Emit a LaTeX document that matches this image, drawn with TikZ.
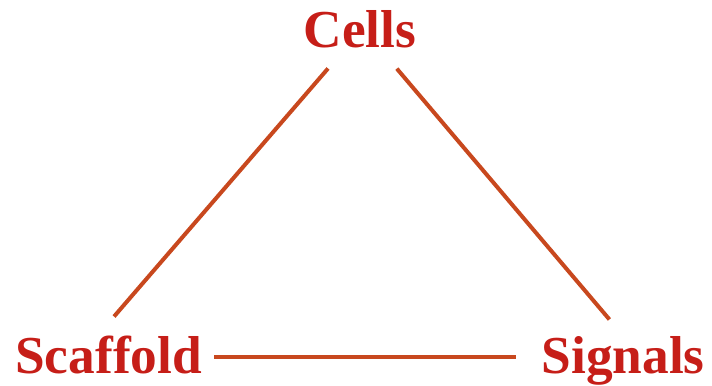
\documentclass[tikz,border=0pt]{standalone}
\usepackage{fontspec}
\setmainfont{Liberation Serif}
\usetikzlibrary{positioning}

\definecolor{labelred}{RGB}{198,30,24}
\definecolor{linkred}{RGB}{200,72,30}

\tikzset{
  word/.style={inner sep=0pt, text=labelred, font=\fontsize{40}{48}\selectfont\bfseries},
  link/.style={draw=linkred, line width=3pt}
}

\begin{document}
\begin{tikzpicture}[x=0.75pt,y=0.75pt,yscale=-1,xscale=1]
		\useasboundingbox (0,0) rectangle (712,385);
		
		% Text Node
		\node [word, anchor=base] (cells) at (360,48) {Cells};
		% Text Node
		\node [word, anchor=base west] (scaffold) at (15,373) {Scaffold};
		% Text Node
		\node [word, anchor=base east] (signals) at (705,373) {Signals};
		
		%Straight Lines
		\draw [link, shorten <=19.5pt, shorten >=18.5pt] ([xshift=-11.25pt]cells.south) -- ([xshift=-8pt]scaffold.north) ;
		%Straight Lines
		\draw [link, shorten <=19.5pt, shorten >=16pt] ([xshift=15pt]cells.south) -- (signals.north) ;
		%Straight Lines
		\draw [link, shorten <=9pt, shorten >=18.75pt] ([yshift=2.25pt]scaffold.east) -- ([yshift=2.25pt]scaffold.east -| signals.west) ;
	\end{tikzpicture}
\end{document}
